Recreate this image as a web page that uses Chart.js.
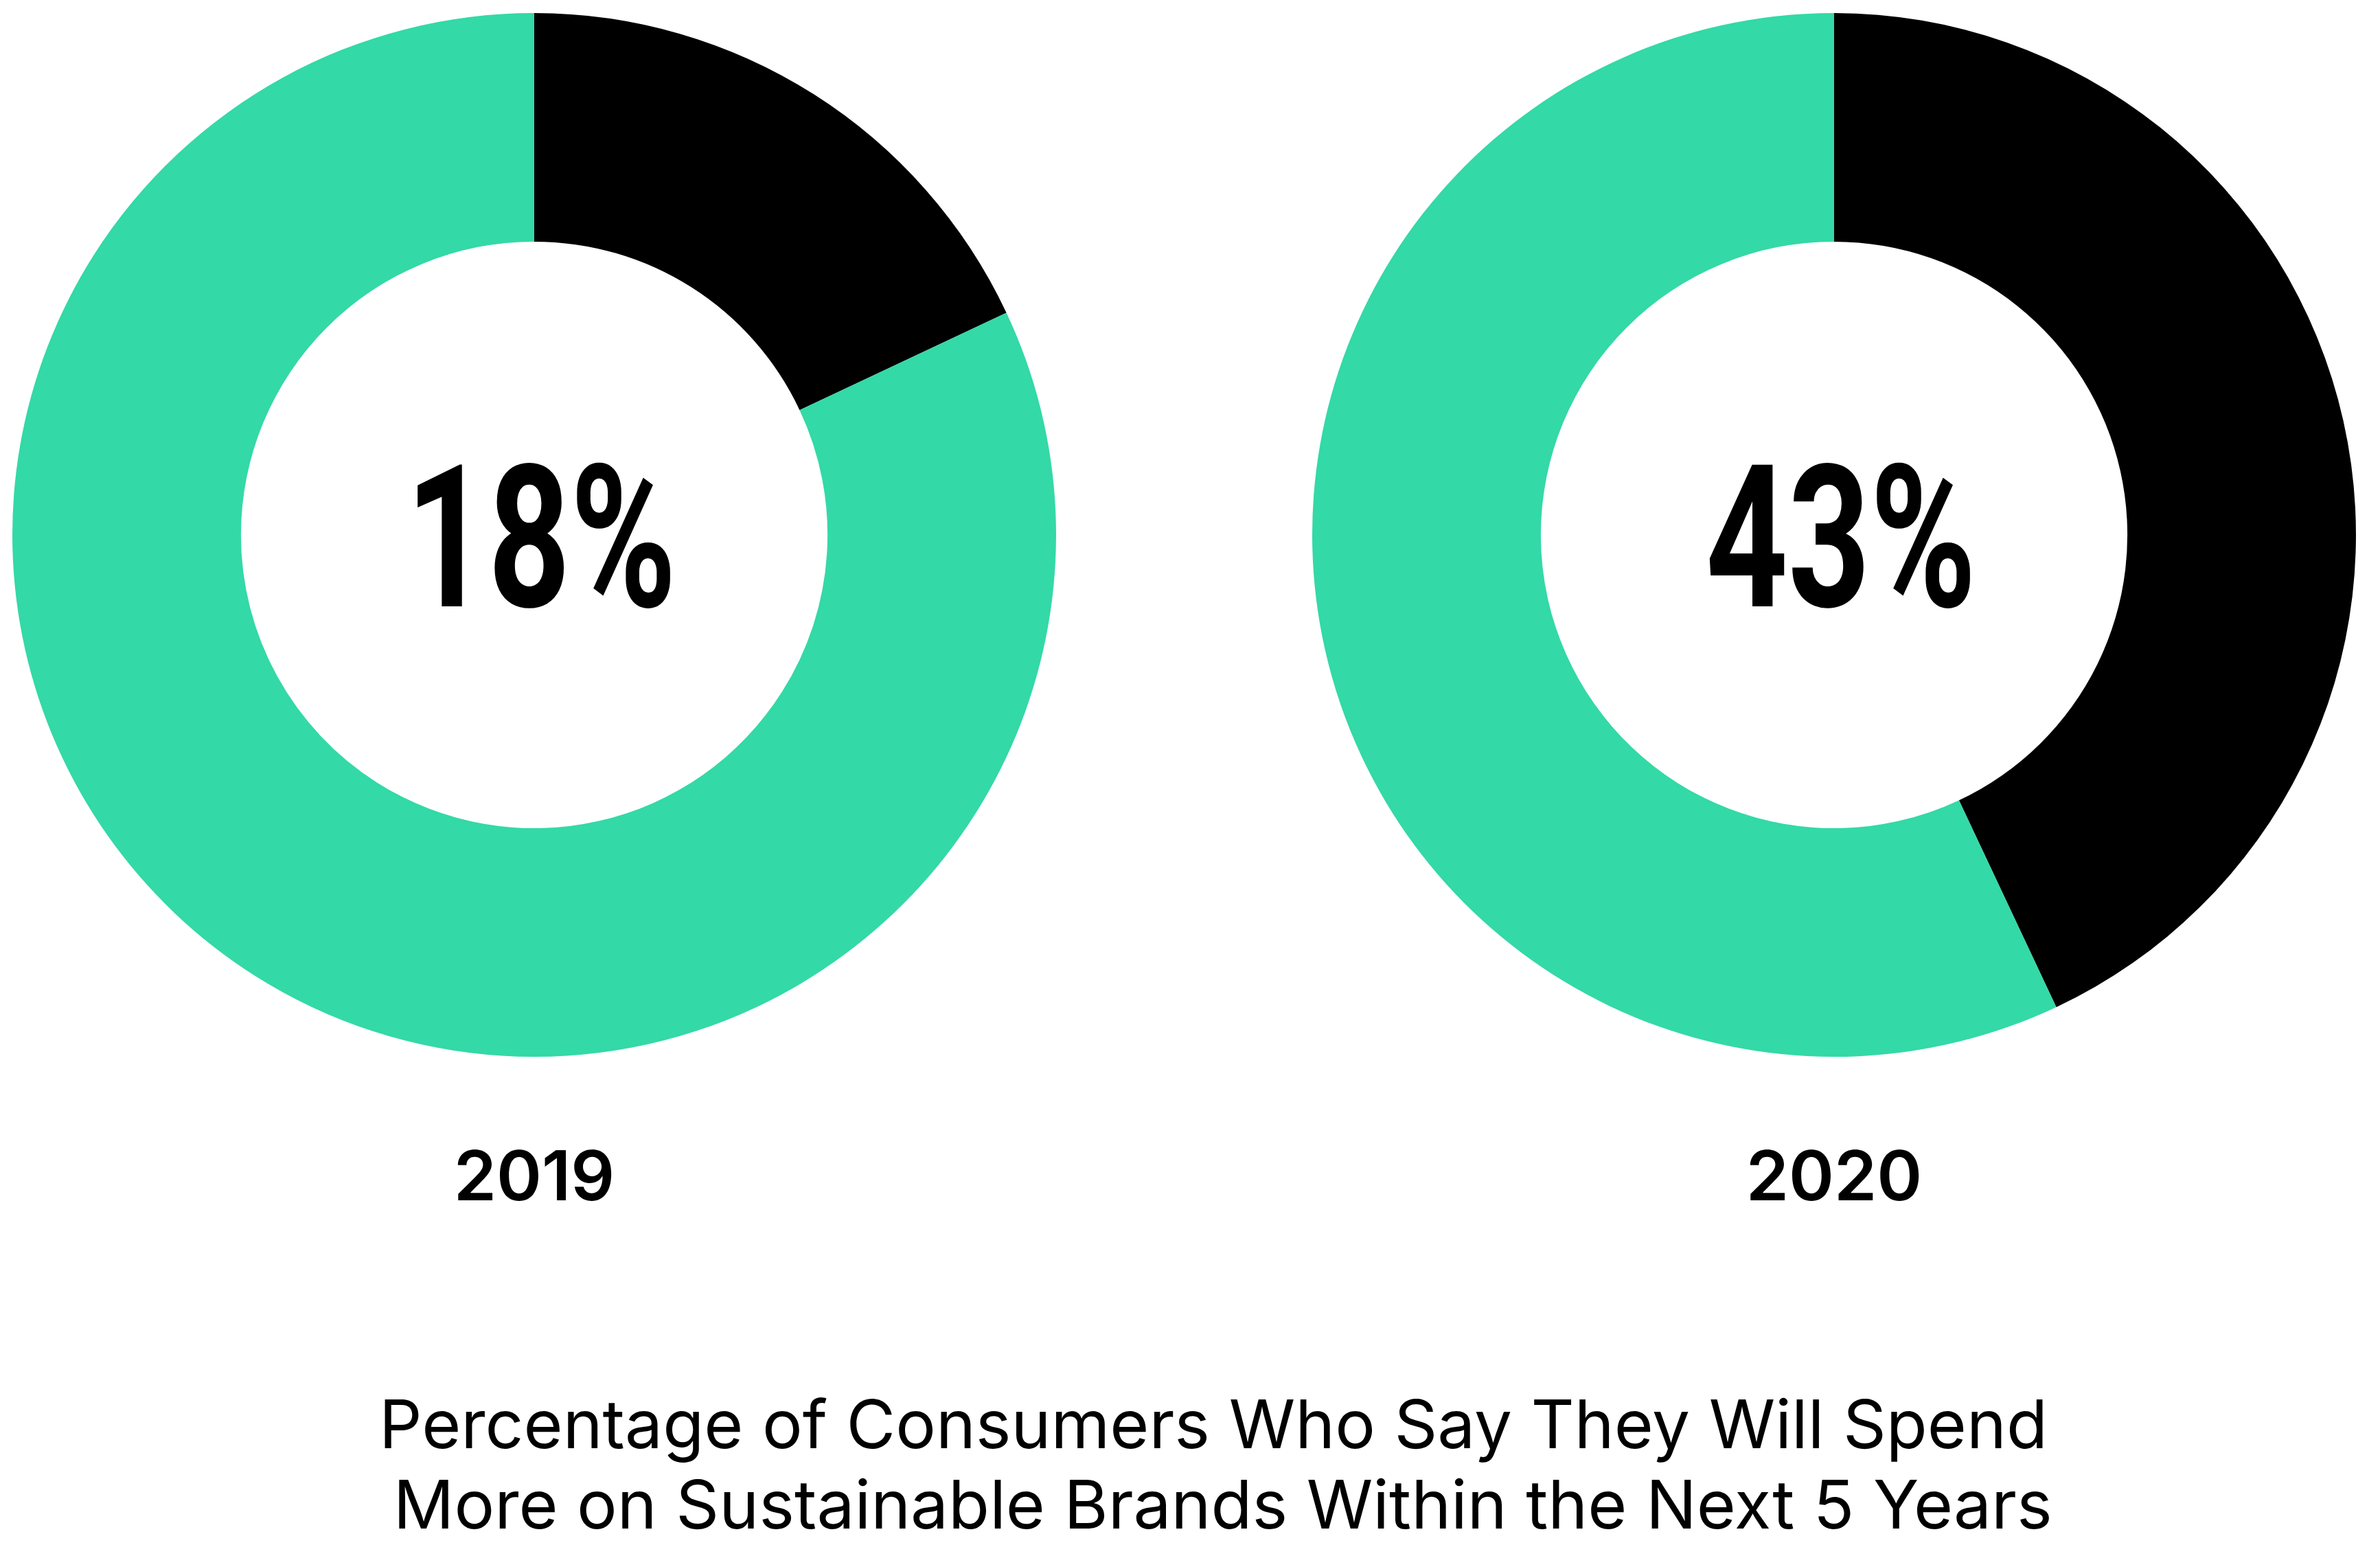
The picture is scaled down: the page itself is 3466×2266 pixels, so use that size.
<!DOCTYPE html>
<html>
<head>
<meta charset="utf-8">
<script src="https://cdn.jsdelivr.net/npm/chart.js@4/dist/chart.umd.min.js"></script>
<style>
  html, body { margin: 0; padding: 0; background: #ffffff; }
  body { width: 3466px; height: 2266px; position: relative; overflow: hidden; }
  canvas { position: absolute; }
  #c2019 { left: 18px; top: 19px; }
  #c2020 { left: 1911px; top: 19px; }
  #caption {
    position: absolute; left: 267px; top: 2015px; width: 3000px;
    text-align: center; white-space: pre;
    font-family: Inter, "Noto Sans", sans-serif; font-weight: 400;
    font-size: 98px; line-height: 117px; color: #000;
  }
</style>
</head>
<body>
<canvas id="c2019" width="1520" height="1749"></canvas>
<canvas id="c2020" width="1520" height="1749"></canvas>
<div id="caption">Percentage of Consumers Who Say They Will Spend
 More on Sustainable Brands Within the Next 5 Years</div>
<script>
// ---- data ----
const years = ['2019', '2020'];
const sliceLabels = ['Will spend more', 'Other'];
const willSpendMore = [18, 43];
const other = [82, 57];
const centerLabels = ['18%', '43%'];
const sliceColors = ['#000000', '#33D9A6'];

Chart.defaults.devicePixelRatio = 1;

const centerTextPlugin = {
  id: 'centerText',
  afterDraw(chart, args, opts) {
    const meta = chart.getDatasetMeta(0);
    if (!meta.data.length) return;
    const arc = meta.data[0];
    const ctx = chart.ctx;
    ctx.save();
    ctx.font = opts.font;
    ctx.fillStyle = opts.color;
    ctx.textAlign = 'center';
    ctx.textBaseline = 'alphabetic';
    ctx.translate(arc.x + opts.dx, arc.y + opts.dy);
    ctx.scale(opts.scaleX, 1);
    ctx.fillText(opts.text, 0, 0);
    ctx.restore();
  }
};

function makeChart(id, i) {
  return new Chart(document.getElementById(id), {
    type: 'doughnut',
    data: {
      labels: sliceLabels,
      datasets: [{
        data: [willSpendMore[i], other[i]],
        backgroundColor: sliceColors,
        borderWidth: 0,
        hoverOffset: 0
      }]
    },
    options: {
      responsive: false,
      animation: false,
      cutout: '56.2%',
      layout: { padding: 0 },
      events: [],
      plugins: {
        legend: { display: false },
        tooltip: { enabled: false },
        title: {
          display: true,
          text: years[i],
          position: 'bottom',
          color: '#000',
          font: { family: 'Inter', weight: '600', size: 100, lineHeight: 1 },
          padding: { top: 129, bottom: 0 }
        },
        centerText: {
          text: centerLabels[i],
          font: "bold 290px Roboto, 'Liberation Sans', sans-serif",
          color: '#000',
          dx: 10,
          dy: 104,
          scaleX: 0.72
        }
      }
    },
    plugins: [centerTextPlugin]
  });
}

makeChart('c2019', 0);
makeChart('c2020', 1);
</script>
</body>
</html>
